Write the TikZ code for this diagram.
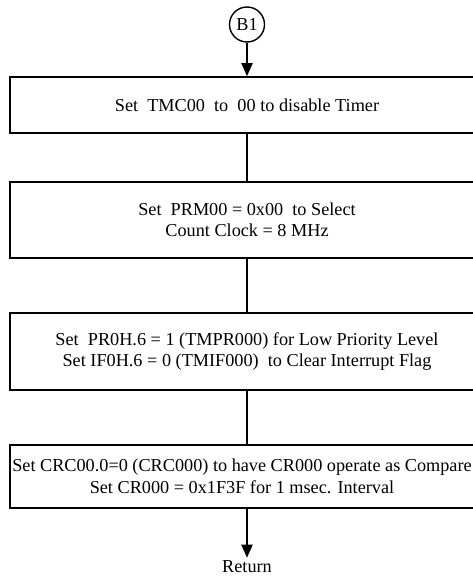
\documentclass[tikz,border=0pt]{standalone}
\usepackage{fontspec}
\setmainfont{Liberation Serif}
\usetikzlibrary{arrows.meta}
\tikzset{
  stepbox/.style={draw=black, line width=1.6bp, rectangle, minimum width=474bp,
    inner sep=0pt, align=center, font=\fontsize{18.3}{21.5}\selectfont},
  conn/.style={draw=black, line width=1.8bp},
  arr/.style={conn, -{Triangle[width=11bp,length=13bp]}},
  plain/.style={inner sep=3bp, font=\fontsize{18.3}{21.5}\selectfont},
}
\begin{document}
\begin{tikzpicture}[x=1bp,y=-1bp]
\useasboundingbox (0,0) rectangle (473,577);
\clip (0,0) rectangle (473,577);

% entry connector
\node[draw=black, line width=1.4bp, circle, minimum size=35bp, inner sep=0pt,
      font=\fontsize{18.3}{21.5}\selectfont] (b1) at (247,24.5) {B1};

% processing steps
\node[stepbox, minimum height=56bp] (s1) at (247,105)
  {Set\ \ TMC00\ \ to\ \ 00 to disable Timer};
\node[stepbox, minimum height=76bp] (s2) at (247,220)
  {Set\ \ PRM00 = 0x00\ \ to Select\\Count Clock = 8 MHz};
\node[stepbox, minimum height=77bp] (s3) at (247,351.5)
  {Set\ \ PR0H.6 = 1 (TMPR000) for Low Priority Level\\
   Set IF0H.6 = 0 (TMIF000)\ \ to Clear Interrupt Flag};
\node[stepbox, minimum height=63bp] (s4) at (247,476.5)
  {\hspace*{-10bp}Set CRC00.0=0 (CRC000) to have CR000 operate as Compare\\
   \hspace*{-10bp}Set CR000 = 0x1F3F for 1 msec. Interval};

% exit
\node[plain] (ret) at (247,567) {Return};

% connectors
\draw[arr] (b1) -- (s1);
\draw[conn] (s1) -- (s2);
\draw[conn] (s2) -- (s3);
\draw[conn] (s3) -- (s4);
\draw[arr] (s4) -- (ret);
\end{tikzpicture}
\end{document}
